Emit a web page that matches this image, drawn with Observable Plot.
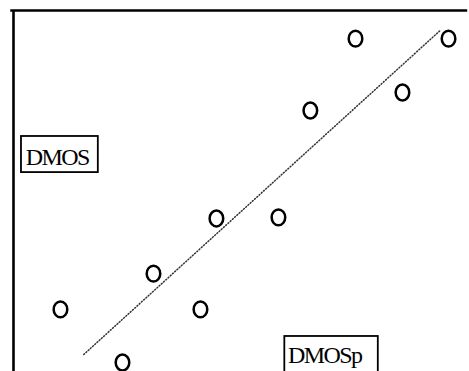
<!DOCTYPE html>
<html>
<head>
<meta charset="utf-8">
<script src="https://cdn.jsdelivr.net/npm/d3@7"></script>
<script src="https://cdn.jsdelivr.net/npm/@observablehq/plot@0.6"></script>
<style>
  html, body { margin: 0; padding: 0; background: #fff; }
  #chart svg { display: block; }
</style>
</head>
<body>
<div id="chart"></div>
<script>
// Predicted score (DMOSp) against subjective score (DMOS)
const dmosp = [10.3, 23.9, 30.7, 41.0, 44.5, 58.1, 65.1, 75.0, 85.3, 95.4];
const dmos  = [17.2, 2.5, 27.1, 17.2, 42.4, 42.7, 72.3, 92.2, 77.3, 92.2];

// Fitted line endpoints
const fitX = [15.4, 93.6];
const fitY = [4.7, 94.5];

// Axis labels
const labelText = ["DMOS", "DMOSp"];

const points = dmosp.map((x, i) => ({x, y: dmos[i]}));
const fit = fitX.map((x, i) => ({x, y: fitY[i]}));

// Open ellipse marker, a little taller than wide
const ring = {
  draw(ctx) {
    const rx = 6.8, ry = 7.95, k = 0.5523;
    ctx.moveTo(rx, 0);
    ctx.bezierCurveTo(rx, ry * k, rx * k, ry, 0, ry);
    ctx.bezierCurveTo(-rx * k, ry, -rx, ry * k, -rx, 0);
    ctx.bezierCurveTo(-rx, -ry * k, -rx * k, -ry, 0, -ry);
    ctx.bezierCurveTo(rx * k, -ry, rx, -ry * k, rx, 0);
    ctx.closePath();
  }
};

const boxes = [
  {x1: 1.75, x2: 18.6, y1: 55.1, y2: 65.1},
  {x1: 59.5, x2: 80.0, y1: -2, y2: 9.7}
];
const labels = [
  {x: 2.7, y: 57.1, text: labelText[0]},
  {x: 60.2, y: 2.3, text: labelText[1]}
];

const chart = Plot.plot({
  width: 469,
  height: 371,
  margin: 0,
  x: {domain: [0, 100], range: [13, 469], axis: null},
  y: {domain: [0, 100], range: [371, 10], axis: null},
  style: {background: "#fff", overflow: "hidden"},
  marks: [
    Plot.ruleX([0], {y1: -5, y2: 100, stroke: "#000", strokeWidth: 2.6}),
    Plot.ruleY([100], {x1: -0.6, x2: 99.6, stroke: "#000", strokeWidth: 2.6}),
    Plot.line(fit, {x: "x", y: "y", stroke: "#333", strokeWidth: 1.5, strokeDasharray: "1,2"}),
    Plot.dot(points, {x: "x", y: "y", symbol: ring, r: 8, stroke: "#000", strokeWidth: 2.5, fill: "none"}),
    Plot.rect(boxes, {x1: "x1", x2: "x2", y1: "y1", y2: "y2", fill: "#fff", stroke: "#000", strokeWidth: 1.8}),
    Plot.text(labels, {
      x: "x", y: "y", text: "text",
      textAnchor: "start", lineAnchor: "bottom",
      fontFamily: "'Liberation Serif', 'Times New Roman', serif", fontSize: 24, fill: "#000"
    })
  ]
});

chart.querySelectorAll("text").forEach(t => t.style.letterSpacing = "-1.6px");
document.getElementById("chart").append(chart);
</script>
</body>
</html>
